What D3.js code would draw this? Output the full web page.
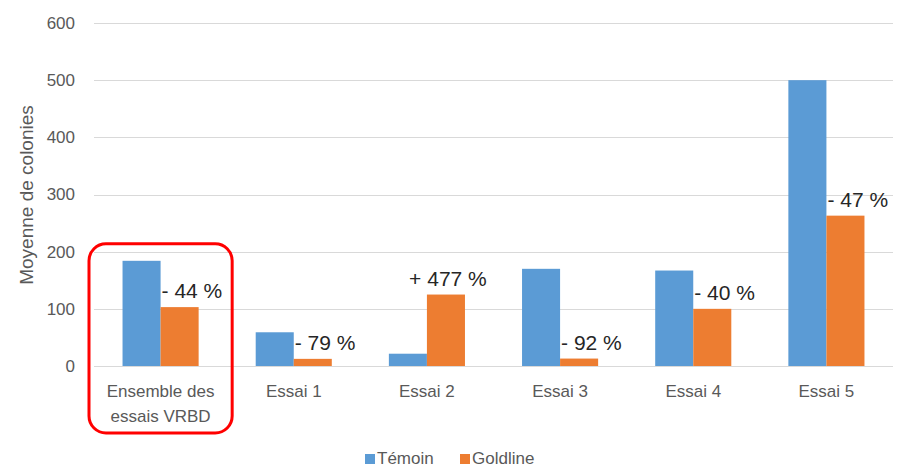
<!DOCTYPE html>
<html lang="fr">
<head>
<meta charset="UTF-8" />
<script src="https://d3js.org/d3.v7.min.js"></script>
<title>Moyenne de colonies</title>
<style>
  body { margin: 0; background: #fff; }
  text { font-family: "Liberation Sans", Arial, sans-serif; }
</style>
</head>
<body>
<script>
// data
var categories = ["Ensemble des essais VRBD", "Essai 1", "Essai 2", "Essai 3", "Essai 4", "Essai 5"];
var series = ["Témoin", "Goldline"];
var temoin = [184, 59, 21.5, 170, 167, 500];
var goldline = [103, 12.5, 125, 13, 100, 263];
var changeLabels = ["- 44 %", "- 79 %", "+ 477 %", "- 92 %", "- 40 %", "- 47 %"];
var yTicks = [0, 100, 200, 300, 400, 500, 600];

var width = 897, height = 468;
var colors = { "Témoin": "#5B9BD5", "Goldline": "#ED7D31" };

var svg = d3.select("body").append("svg").attr("width", width).attr("height", height);

var x0 = d3.scaleBand().domain(categories).range([94, 893]).padding(0);
var x1 = d3.scaleBand().domain(series).range([0, x0.bandwidth()]).paddingInner(0).paddingOuter(0.75);
var y = d3.scaleLinear().domain([0, 600]).range([366, 23]);

// gridlines
svg.append("g").selectAll("line").data(yTicks).enter().append("line")
  .attr("x1", 94).attr("x2", 893)
  .attr("y1", function(d){ return Math.round(y(d)) + 0.5; })
  .attr("y2", function(d){ return Math.round(y(d)) + 0.5; })
  .attr("stroke", "#D9D9D9").attr("stroke-width", 1);

// y axis labels
var yAxis = svg.append("g").attr("transform", "translate(75,0)")
  .call(d3.axisLeft(y).tickValues(yTicks).tickSize(0).tickPadding(0));
yAxis.select(".domain").remove();
yAxis.selectAll("text").attr("font-size", 17).attr("fill", "#595959")
  .style("font-family", "Liberation Sans, Arial, sans-serif");

svg.append("text")
  .attr("transform", "translate(33,195) rotate(-90)")
  .attr("text-anchor", "middle").attr("font-size", 19).attr("fill", "#595959")
  .text("Moyenne de colonies");

var rows = categories.map(function(c, i){
  return { cat: c, vals: [ { s: "Témoin", v: temoin[i] }, { s: "Goldline", v: goldline[i] } ], label: changeLabels[i] };
});

var groups = svg.append("g").selectAll("g").data(rows).enter().append("g")
  .attr("transform", function(d){ return "translate(" + x0(d.cat) + ",0)"; });

groups.selectAll("rect").data(function(d){ return d.vals; }).enter().append("rect")
  .attr("x", function(d){ return x1(d.s); })
  .attr("width", x1.bandwidth())
  .attr("y", function(d){ return y(d.v); })
  .attr("height", function(d){ return y(0) - y(d.v); })
  .attr("fill", function(d){ return colors[d.s]; });

// change labels above the Goldline bars
groups.append("text")
  .attr("font-size", 21).attr("fill", "#262626")
  .attr("text-anchor", function(d){ return d.label[0] === "+" ? "middle" : "start"; })
  .attr("x", function(d){
    return d.label[0] === "+" ? x1("Goldline") + x1.bandwidth() / 2 + 2 : x1("Goldline") + 1;
  })
  .attr("y", function(d){ return y(d.vals[1].v) - 9; })
  .text(function(d){ return d.label; });

// x axis labels
var xl = svg.append("g").selectAll("text").data(categories).enter().append("text")
  .attr("x", function(d){ return x0(d) + x0.bandwidth() / 2; })
  .attr("y", 397)
  .attr("text-anchor", "middle").attr("font-size", 17).attr("fill", "#595959");
xl.each(function(d){
  var t = d3.select(this);
  if (d === categories[0]) {
    t.append("tspan").attr("x", x0(d) + x0.bandwidth() / 2).text("Ensemble des");
    t.append("tspan").attr("x", x0(d) + x0.bandwidth() / 2).attr("dy", 25).text("essais VRBD");
  } else {
    t.text(d);
  }
});

// highlight box around the first category
svg.append("rect")
  .attr("x", x0(categories[0]) - 5)
  .attr("y", y(temoin[0]) - 17)
  .attr("width", x0.bandwidth() + 10)
  .attr("height", 433 - (y(temoin[0]) - 17))
  .attr("rx", 17).attr("ry", 17)
  .attr("fill", "none").attr("stroke", "#FF0000").attr("stroke-width", 3);

// legend
var legendX = [365, 460];
var legend = svg.append("g").selectAll("g").data(series).enter().append("g")
  .attr("transform", function(d, i){ return "translate(" + legendX[i] + ",454)"; });
legend.append("rect").attr("width", 10).attr("height", 10).attr("fill", function(d){ return colors[d]; });
legend.append("text").attr("x", 12).attr("y", 10).attr("font-size", 17).attr("fill", "#595959")
  .text(function(d){ return d; });
</script>
</body>
</html>
